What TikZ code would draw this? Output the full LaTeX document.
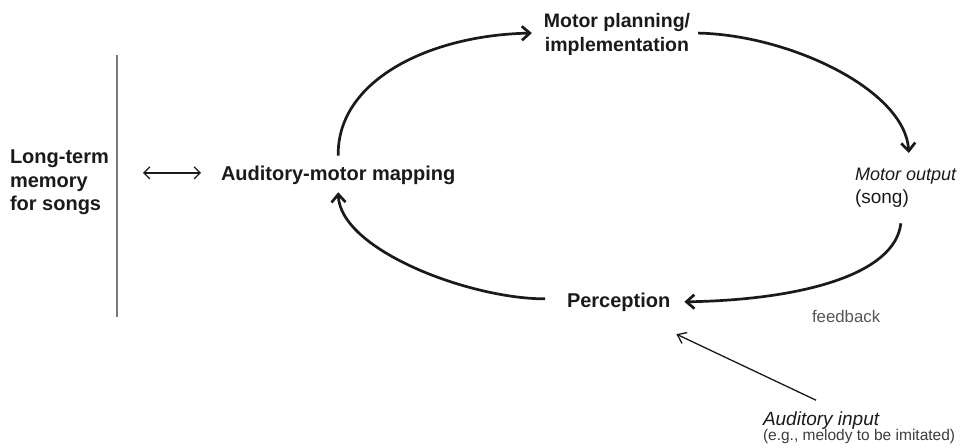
\documentclass[tikz,border=0pt]{standalone}
\usepackage{fontspec}
\setmainfont{Liberation Sans}
\usetikzlibrary{arrows.meta,calc}
\definecolor{ink}{HTML}{1A1A1A}
\definecolor{fbgray}{HTML}{555555}
\definecolor{rule}{HTML}{7A7A7A}
\begin{document}
\begin{tikzpicture}[x=1pt,y=-1pt,
  lbl/.style={inner sep=0pt,outer sep=0pt,text=ink},
  bigb/.style={lbl,font=\fontsize{20}{23.5}\selectfont\bfseries},
  arc/.style={draw=ink,line width=2.7pt,-{Straight Barb[length=8pt,width=14pt]}},
  thin/.style={draw=ink,line width=1.3pt}]
\useasboundingbox (0,0) rectangle (966,447);
% nodes
\node[bigb,anchor=north west,align=left] (ltm) at (10,150) {Long-term\\memory\\for songs};
\node[bigb,anchor=base west] (map) at (221,180) {Auditory-motor mapping};
\node[lbl,anchor=north,align=center,font=\fontsize{19.5}{24}\selectfont\bfseries] (plan) at (617,13) {Motor planning/\\implementation};
\node[lbl,anchor=north west,align=left,font=\fontsize{19}{23}\selectfont] (out) at (855,168) {\textit{\fontsize{18}{23}\selectfont Motor output}\\(song)};
\node[bigb,anchor=base west] (perc) at (567,307) {Perception};
\node[lbl,anchor=base west,text=fbgray,font=\fontsize{16.8}{20}\selectfont] (fb) at (812,322) {feedback};
\node[lbl,anchor=base west,font=\fontsize{19}{22}\selectfont\itshape] (ain) at (763,425) {Auditory input};
\node[lbl,anchor=base west,font=\fontsize{15.5}{18}\selectfont,text=ink!85] (ainsub) at (763,440) {(e.g., melody to be imitated)};
% vertical rule
\draw[rule,line width=1.5pt] (117,55) -- (117,317);
% double arrow
\draw[thin,{Straight Barb[length=6pt,width=12pt]}-{Straight Barb[length=6pt,width=12pt]}]
  ($(map.west)+(-78,-2)$) -- ($(map.west)+(-20,-2)$);
% cycle
\draw[arc] ($(map.north)+(0,-10)$) .. controls (337,80) and (430,35) .. ($(plan.west)+(-12,-1)$);
\draw[arc] ($(plan.east)+(8,-1)$) .. controls (790,35) and (905,90) .. ($(out.north)+(3,-15)$);
\draw[arc] ($(out.south)+(-5,16)$) .. controls (895,275) and (800,300) .. ($(perc.east)+(14,0)$);
\draw[arc] ($(perc.west)+(-22,-3)$) .. controls (470,299) and (340,250) .. ($(map.south)+(0,8)$);
% auditory input
\draw[thin,-{Straight Barb[length=8pt,width=12pt]}] ($(ain.north)+(-5,-11)$) -- ($(perc.south east)+(6,23)$);
\end{tikzpicture}
\end{document}
